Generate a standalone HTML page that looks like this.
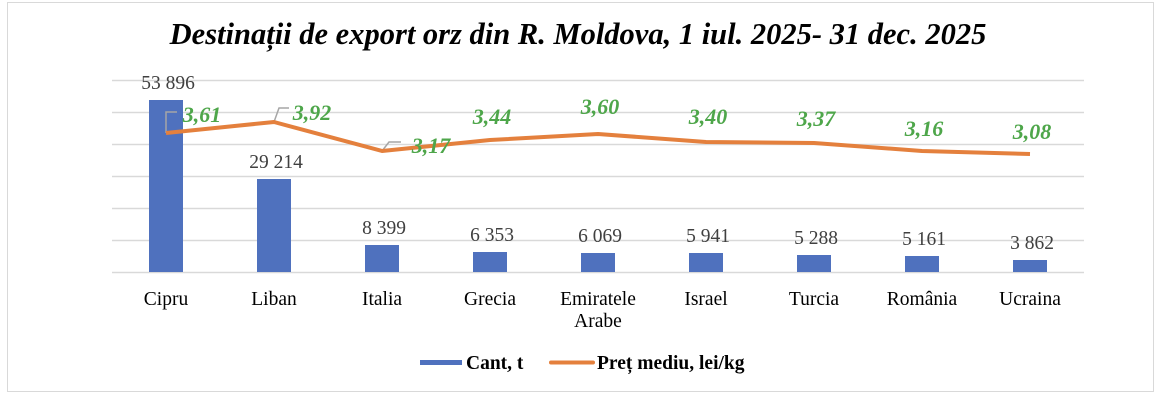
<!DOCTYPE html>
<html><head><meta charset="utf-8"><style>
html,body{margin:0;padding:0;background:#fff;width:1164px;height:400px;overflow:hidden}
</style></head><body>
<svg width="1164" height="400" xmlns="http://www.w3.org/2000/svg" font-family="Liberation Serif, serif">
<rect x="7.5" y="2.5" width="1146" height="389" fill="#fff" stroke="#d9d9d9"/>
<text x="578" y="44" text-anchor="middle" font-size="30.5" font-weight="bold" font-style="italic">Destinații de export orz din R. Moldova, 1 iul. 2025- 31 dec. 2025</text>
<g stroke="#d9d9d9" stroke-width="1.5">
<line x1="112" x2="1084" y1="80.5" y2="80.5"/>
<line x1="112" x2="1084" y1="112.5" y2="112.5"/>
<line x1="112" x2="1084" y1="144.5" y2="144.5"/>
<line x1="112" x2="1084" y1="176.5" y2="176.5"/>
<line x1="112" x2="1084" y1="208.5" y2="208.5"/>
<line x1="112" x2="1084" y1="240.5" y2="240.5"/>
<line x1="112" x2="1084" y1="272.5" y2="272.5"/>
</g>
<g fill="#4f71be">
<rect x="149" y="100" width="34" height="172"/>
<rect x="257" y="179" width="34" height="93"/>
<rect x="365" y="245" width="34" height="27"/>
<rect x="473" y="252" width="34" height="20"/>
<rect x="581" y="253" width="34" height="19"/>
<rect x="689" y="253" width="34" height="19"/>
<rect x="797" y="255" width="34" height="17"/>
<rect x="905" y="256" width="34" height="16"/>
<rect x="1013" y="260" width="34" height="12"/>
</g>
<g font-size="19.5" fill="#404040" text-anchor="middle">
<text x="168" y="89">53 896</text>
<text x="276" y="168">29 214</text>
<text x="384" y="234">8 399</text>
<text x="492" y="241">6 353</text>
<text x="600" y="242">6 069</text>
<text x="708" y="242">5 941</text>
<text x="816" y="244">5 288</text>
<text x="924" y="245">5 161</text>
<text x="1032" y="249">3 862</text>
</g>
<g stroke="#a6a6a6" stroke-width="1.5" fill="none">
<polyline points="166,133 166,112 177,112"/>
<polyline points="274,122 279,108 289,108"/>
<polyline points="382,151 389,142 401,142"/>
</g>
<polyline fill="none" stroke="#e4803d" stroke-width="4" stroke-linejoin="round" points="166,133 274,122 382,151 490,140 598,134 706,142 814,143 922,151 1030,154"/>
<g font-size="22" font-weight="bold" font-style="italic" fill="#4ea64a" text-anchor="middle">
<text x="202" y="122">3,61</text>
<text x="312" y="120">3,92</text>
<text x="431" y="153">3,17</text>
<text x="492" y="124">3,44</text>
<text x="600" y="114">3,60</text>
<text x="708" y="124">3,40</text>
<text x="816" y="126">3,37</text>
<text x="924" y="136">3,16</text>
<text x="1032" y="139">3,08</text>
</g>
<g font-size="19.5" fill="#000" text-anchor="middle">
<text x="166" y="305">Cipru</text>
<text x="274" y="305">Liban</text>
<text x="382" y="305">Italia</text>
<text x="490" y="305">Grecia</text>
<text x="598" y="305">Emiratele</text>
<text x="598" y="327">Arabe</text>
<text x="706" y="305">Israel</text>
<text x="814" y="305">Turcia</text>
<text x="922" y="305">România</text>
<text x="1030" y="305">Ucraina</text>
</g>
<rect x="420" y="360" width="42" height="5" fill="#4f71be"/>
<line x1="551" x2="593" y1="362.5" y2="362.5" stroke="#e4803d" stroke-width="4" stroke-linecap="round"/>
<g font-size="19.5" font-weight="bold" fill="#000">
<text x="466" y="369">Cant, t</text>
<text x="597" y="369">Preț mediu, lei/kg</text>
</g>
</svg>
</body></html>
